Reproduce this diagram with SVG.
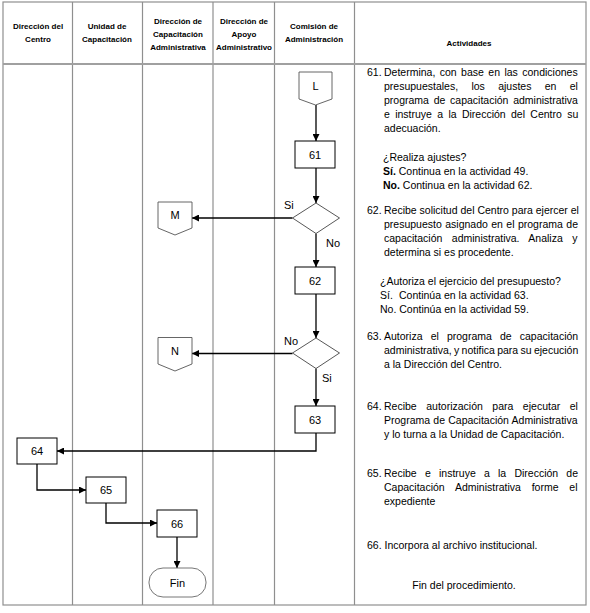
<svg xmlns="http://www.w3.org/2000/svg" width="590" height="613" viewBox="0 0 590 613">
<style>
.grid{stroke:#8f8f8f;stroke-width:1.2;fill:none}
.hd{font-family:"Liberation Sans",Arial,sans-serif;font-size:8px;font-weight:bold;fill:#000;text-anchor:middle}
.tx{font-family:"Liberation Sans",Arial,sans-serif;font-size:10.5px;fill:#000}
.lb{font-family:"Liberation Sans",Arial,sans-serif;font-size:11px;fill:#000}
.ct{font-family:"Liberation Sans",Arial,sans-serif;font-size:11px;fill:#000;text-anchor:middle}
.box{fill:#fff;stroke:#000;stroke-width:1}
.con{fill:#fff;stroke:#555;stroke-width:0.9}
.dia{fill:#fff;stroke:#444;stroke-width:0.9}
.ln{fill:none;stroke:#000;stroke-width:1.3}
</style>
<defs>
<marker id="ah" viewBox="0 0 10 10" refX="10" refY="5" markerWidth="7" markerHeight="7" markerUnits="userSpaceOnUse" orient="auto">
<path d="M0,0 L10,5 L0,10 z" fill="#000"/>
</marker>
</defs>
<rect width="590" height="613" fill="#fff"/>
<g id="table">
<rect class="grid" x="3" y="2" width="583" height="603"/>
<line class="grid" x1="72.5" y1="2" x2="72.5" y2="605"/>
<line class="grid" x1="142.5" y1="2" x2="142.5" y2="605"/>
<line class="grid" x1="213" y1="2" x2="213" y2="605"/>
<line class="grid" x1="274.5" y1="2" x2="274.5" y2="605"/>
<line class="grid" x1="354.5" y1="2" x2="354.5" y2="605"/>
<line x1="3" y1="64" x2="586" y2="64" stroke="#a0a0a0" stroke-width="2"/>
</g>
<g id="header">
<text class="hd" x="38" y="28.7">Dirección del</text>
<text class="hd" x="38" y="42">Centro</text>
<text class="hd" x="107" y="28.7">Unidad de</text>
<text class="hd" x="107" y="42">Capacitación</text>
<text class="hd" x="178" y="23.7">Dirección de</text>
<text class="hd" x="178" y="37">Capacitación</text>
<text class="hd" x="178" y="49.7">Administrativa</text>
<text class="hd" x="244" y="23.7">Dirección de</text>
<text class="hd" x="244" y="37">Apoyo</text>
<text class="hd" x="244" y="49.7">Administrativo</text>
<text class="hd" x="314" y="28.7">Comisión de</text>
<text class="hd" x="314" y="42">Administración</text>
<text class="hd" x="469" y="46">Actividades</text>
</g>
<g id="connectors">
<path class="ln" d="M316,105 V141" marker-end="url(#ah)"/>
<path class="ln" d="M316,168 V203" marker-end="url(#ah)"/>
<path class="ln" d="M292.5,218 H192" marker-end="url(#ah)"/>
<path class="ln" d="M316,233.5 V267" marker-end="url(#ah)"/>
<path class="ln" d="M316,294 V338" marker-end="url(#ah)"/>
<path class="ln" d="M292.5,353.5 H192" marker-end="url(#ah)"/>
<path class="ln" d="M316,368.5 V406" marker-end="url(#ah)"/>
<path class="ln" d="M316,433 V451 H57" marker-end="url(#ah)"/>
<path class="ln" d="M37,464 V490 H86" marker-end="url(#ah)"/>
<path class="ln" d="M106,503 V523 H157" marker-end="url(#ah)"/>
<path class="ln" d="M177,537 V568" marker-end="url(#ah)"/>
<text class="lb" x="284" y="209">Si</text>
<text class="lb" x="326" y="247">No</text>
<text class="lb" x="284" y="345">No</text>
<text class="lb" x="322" y="382">Si</text>
</g>
<g id="node-L">
<path class="con" d="M299,72 H332 V99 L315.5,105 L299,99 Z"/>
<text class="ct" x="315.5" y="89.5">L</text>
</g>
<g id="node-61">
<rect class="box" x="295" y="141" width="40" height="27"/>
<text class="ct" x="315" y="158.5">61</text>
</g>
<g id="node-d1">
<path class="dia" d="M316,203 L339.5,218 L316,233.5 L292.5,218 Z"/>
</g>
<g id="node-M">
<path class="con" d="M158,202 H192 V228 L175,235 L158,228 Z"/>
<text class="ct" x="175" y="218.5">M</text>
</g>
<g id="node-62">
<rect class="box" x="295" y="267" width="40" height="27"/>
<text class="ct" x="315" y="284.5">62</text>
</g>
<g id="node-d2">
<path class="dia" d="M316,338 L339.5,353 L316,368.5 L292.5,353 Z"/>
</g>
<g id="node-N">
<path class="con" d="M158,337.5 H192 V364 L175,371 L158,364 Z"/>
<text class="ct" x="175" y="355">N</text>
</g>
<g id="node-63">
<rect class="box" x="295" y="406" width="40" height="27"/>
<text class="ct" x="315" y="423.5">63</text>
</g>
<g id="node-64">
<rect class="box" x="17" y="438" width="40" height="26"/>
<text class="ct" x="37" y="455">64</text>
</g>
<g id="node-65">
<rect class="box" x="86" y="477" width="40" height="26"/>
<text class="ct" x="106" y="494">65</text>
</g>
<g id="node-66">
<rect class="box" x="157" y="510" width="40" height="27"/>
<text class="ct" x="177" y="527.5">66</text>
</g>
<g id="node-fin">
<rect x="149" y="568" width="57" height="29" rx="14" ry="14" fill="#fff" stroke="#666" stroke-width="0.9"/>
<text class="ct" x="177.5" y="587">Fin</text>
</g>
<g id="activities">
<text class="tx" x="367" y="76">61.</text>
<text class="tx" x="384" y="76" word-spacing="1.5">Determina, con base en las condiciones</text>
<text class="tx" x="384" y="90" word-spacing="10.4">presupuestales, los ajustes en el</text>
<text class="tx" x="384" y="104" word-spacing="1.8">programa de capacitación administrativa</text>
<text class="tx" x="384" y="118" word-spacing="2.4">e instruye a la Dirección del Centro su</text>
<text class="tx" x="384" y="132">adecuación.</text>
<text class="tx" x="383" y="161">¿Realiza ajustes?</text>
<text class="tx" x="383" y="175"><tspan font-weight="bold">Sí.</tspan> Continua en la actividad 49.</text>
<text class="tx" x="383" y="189"><tspan font-weight="bold">No.</tspan> Continua en la actividad 62.</text>

<text class="tx" x="367" y="214">62.</text>
<text class="tx" x="384" y="214">Recibe solicitud del Centro para ejercer el</text>
<text class="tx" x="384" y="228" word-spacing="0.5">presupuesto asignado en el programa de</text>
<text class="tx" x="384" y="242" word-spacing="6.5">capacitación administrativa. Analiza y</text>
<text class="tx" x="384" y="256">determina si es procedente.</text>
<text class="tx" x="380" y="285">¿Autoriza el ejercicio del presupuesto?</text>
<text class="tx" x="380" y="299">Sí.<tspan x="399">Continúa en la actividad 63.</tspan></text>
<text class="tx" x="380" y="313">No. Continúa en la actividad 59.</text>

<text class="tx" x="367" y="340">63.</text>
<text class="tx" x="384" y="340" word-spacing="5.2">Autoriza el programa de capacitación</text>
<text class="tx" x="384" y="354" word-spacing="-0.6">administrativa, y notifica para su ejecución</text>
<text class="tx" x="384" y="368">a la Dirección del Centro.</text>

<text class="tx" x="367" y="410">64.</text>
<text class="tx" x="384" y="410" word-spacing="6.6">Recibe autorización para ejecutar el</text>
<text class="tx" x="384" y="424" word-spacing="0.3">Programa de Capacitación Administrativa</text>
<text class="tx" x="384" y="438">y lo turna a la Unidad de Capacitación.</text>

<text class="tx" x="367" y="477">65.</text>
<text class="tx" x="384" y="477" word-spacing="5.3">Recibe e instruye a la Dirección de</text>
<text class="tx" x="384" y="491" word-spacing="7.9">Capacitación Administrativa forme el</text>
<text class="tx" x="384" y="505">expediente</text>

<text class="tx" x="367" y="549">66. Incorpora al archivo institucional.</text>

<text class="tx" x="464" y="589" text-anchor="middle">Fin del procedimiento.</text>
</g>
</svg>
